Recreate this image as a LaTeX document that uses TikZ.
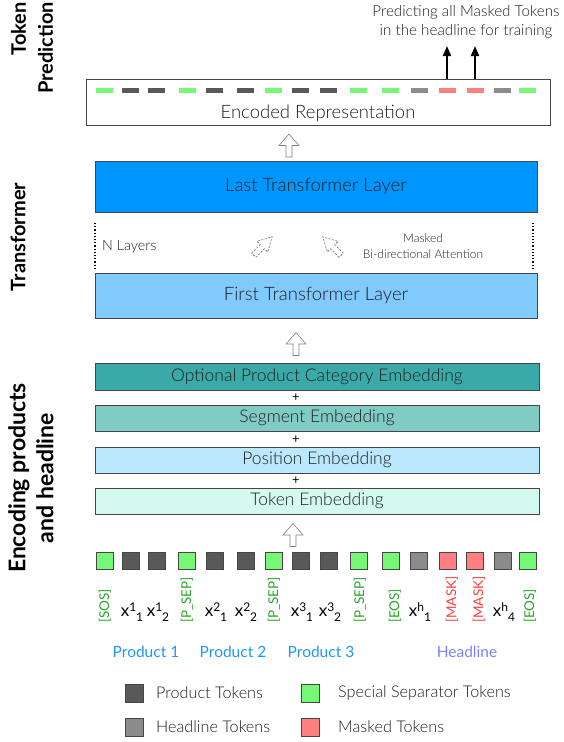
\documentclass[tikz,border=0pt]{standalone}
\usepackage{fontspec}
\setmainfont{Lato}[UprightFont={* Light}, BoldFont={* Bold}]
\newfontfamily\regfont{Lato}
\usetikzlibrary{arrows.meta}
\definecolor{prodtok}{RGB}{89,89,89}
\definecolor{headtok}{RGB}{140,140,140}
\definecolor{septok}{RGB}{118,248,118}
\definecolor{masktok}{RGB}{255,128,128}
\definecolor{boxline}{RGB}{70,70,70}
\definecolor{txt}{RGB}{30,30,30}
\definecolor{lastc}{RGB}{0,150,255}
\definecolor{firstc}{RGB}{128,202,255}
\definecolor{optc}{RGB}{58,170,168}
\definecolor{segc}{RGB}{128,203,196}
\definecolor{posc}{RGB}{186,232,252}
\definecolor{tokc}{RGB}{212,250,240}
\definecolor{sepgreen}{RGB}{40,165,40}
\definecolor{maskred}{RGB}{255,60,60}
\definecolor{prodblue}{RGB}{30,150,255}
\definecolor{headlav}{RGB}{128,128,255}
\newcommand\xtok[2]{x\raisebox{5.5pt}{\fontsize{12}{12}\selectfont #1}\raisebox{-5pt}{\fontsize{12}{12}\selectfont #2}}
\begin{document}
\begin{tikzpicture}[x=1pt,y=-1pt,
  layerbox/.style={draw=boxline, line width=0.7pt, inner sep=0pt, minimum width=442pt, text=txt, font=\fontsize{18.5}{22}\selectfont},
  embbox/.style={draw=boxline, line width=0.7pt, inner sep=0pt, minimum width=444pt, minimum height=26pt, text=txt, font=\fontsize{17.5}{20}\selectfont},
  tok/.style={draw=boxline, line width=0.5pt, minimum size=17pt, inner sep=0pt},
  enctok/.style={minimum width=17pt, minimum height=5pt, inner sep=0pt},
  uparrow/.pic={\draw[gray, fill=white, line width=0.6pt] (-3,11.5) -- (-3,0) -- (-10,0) -- (0,-11.5) -- (10,0) -- (3,0) -- (3,11.5) -- cycle;},
  dasharrow/.pic={\draw[gray!80!black, dash pattern=on 2pt off 1.5pt, line width=0.6pt] (-3,13) -- (-3,1) -- (-7.5,1) -- (0,-13) -- (7.5,1) -- (3,1) -- (3,13) -- cycle;},
  predarrow/.style={-{Triangle[width=8pt,length=10pt]}, line width=2pt, black},
  sidelabel/.style={rotate=90, font=\bfseries\fontsize{20}{27}\selectfont, inner sep=0pt},
  sepl/.style={rotate=90, anchor=west, text=sepgreen, font=\regfont\fontsize{13.5}{14}\selectfont, inner sep=0pt},
  maskl/.style={rotate=90, anchor=west, text=maskred, font=\regfont\fontsize{13.5}{14}\selectfont, inner sep=0pt},
  xl/.style={font=\regfont\fontsize{17}{18}\selectfont, text=black, inner sep=0pt},
  plus/.style={font=\regfont\fontsize{13}{13}\selectfont, inner sep=0pt},
  grp/.style={font=\regfont\fontsize{15.5}{17}\selectfont, inner sep=0pt},
  leg/.style={anchor=west, font=\fontsize{16.2}{18}\selectfont, text=txt, inner sep=0pt},
  legsq/.style={draw=boxline, line width=0.5pt, minimum size=18pt, inner sep=0pt}
]
\useasboundingbox (0,0) rectangle (563,742);

% side labels
\node[sidelabel, align=right] (lblpred) at (32,48) {Token\\Prediction};
\node[sidelabel] (lbltrans) at (18,237) {Transformer};
\node[sidelabel, align=center, font=\bfseries\fontsize{23}{28}\selectfont] (lblenc) at (31,478) {Encoding products\\and headline};

% encoded representation
\node[draw=boxline, line width=0.7pt, minimum width=464pt, minimum height=46pt, inner sep=0pt] (enc) at (318,102) {};
\node[text=txt, font=\fontsize{18.5}{22}\selectfont, inner sep=0pt] (enctext) at (318,113) {Encoded Representation};
\foreach \x/\c [count=\i] in {104/septok,130/prodtok,156/prodtok,187/septok,214/prodtok,245/prodtok,273/septok,300/prodtok,328/prodtok,358/septok,390/septok,419/headtok,447/masktok,475/masktok,502/headtok,527/septok}
  \node[enctok, fill=\c] (d\i) at (\x,90) {};

\coordinate (pa) at (447,46);
\coordinate (pb) at (475,46);
\draw[predarrow] (enc.north -| d13) -- (pa);
\draw[predarrow] (enc.north -| d14) -- (pb);
\node[text=txt, align=center, font=\fontsize{15.2}{19}\selectfont, inner sep=0pt] (predtext) at (466,22) {Predicting all Masked Tokens\\in the headline for training};

% transformer
\node[layerbox, fill=lastc, minimum height=51pt] (last) at (316,186.5) {Last Transformer Layer};
\node[layerbox, fill=firstc, minimum height=45pt] (first) at (316,295.5) {First Transformer Layer};
\pic at (289,145.5) {uparrow};

\coordinate (dl1) at (95,223);
\coordinate (dl2) at (95,268);
\coordinate (dr1) at (533,223);
\coordinate (dr2) at (533,268);
\draw[dotted, line width=1.2pt, black] (dl1) -- (dl2);
\draw[dotted, line width=1.2pt, black] (dr1) -- (dr2);
\node[anchor=west, text=txt, font=\fontsize{14.3}{16}\selectfont, inner sep=0pt] (nlayers) at (102,247) {N Layers};
\pic[rotate=-45] at (263,246) {dasharrow};
\pic[rotate=45] at (332,246) {dasharrow};
\node[text=txt, align=center, font=\fontsize{12}{16}\selectfont, inner sep=0pt] (mba) at (423,246) {Masked\\Bi-directional Attention};

% embeddings
\pic at (296,344) {uparrow};
\node[embbox, fill=optc, minimum height=27pt] (opt) at (317,376.5) {Optional Product Category Embedding};
\node[plus] (pl1) at (296,398) {+};
\node[embbox, fill=segc] (seg) at (317,418) {Segment Embedding};
\node[plus] (pl2) at (296,440) {+};
\node[embbox, fill=posc] (pos) at (317,460) {Position Embedding};
\node[plus] (pl3) at (296,481) {+};
\node[embbox, fill=tokc] (temb) at (317,501) {Token Embedding};
\pic at (293,535) {uparrow};

% tokens
\foreach \x/\c [count=\i] in {105/septok,131/prodtok,157/prodtok,187/septok,215/prodtok,246/prodtok,274/septok,301/prodtok,329/prodtok,359/septok,391/septok,419/headtok,448/masktok,475/masktok,503/headtok,528/septok}
  \node[tok, fill=\c] (t\i) at (\x,561) {};

% token labels
\node[sepl] (l1) at (105,623) {[SOS]};
\node[xl] (l2) at (132,612) {\xtok{1}{1}};
\node[xl] (l3) at (158,612) {\xtok{1}{2}};
\node[sepl] (l4) at (187,623) {[P\_SEP]};
\node[xl] (l5) at (216,612) {\xtok{2}{1}};
\node[xl] (l6) at (246,612) {\xtok{2}{2}};
\node[sepl] (l7) at (274,623) {[P\_SEP]};
\node[xl] (l8) at (302,612) {\xtok{3}{1}};
\node[xl] (l9) at (330,612) {\xtok{3}{2}};
\node[sepl] (l10) at (360,623) {[P\_SEP]};
\node[sepl] (l11) at (395,623) {[EOS]};
\node[xl] (l12) at (420,612) {\xtok{h}{1}};
\node[maskl] (l13) at (452,623) {[MASK]};
\node[maskl] (l14) at (479,623) {[MASK]};
\node[xl] (l15) at (504,612) {\xtok{h}{4}};
\node[sepl] (l16) at (530,623) {[EOS]};

% group labels
\node[grp, text=prodblue] (g1) at (146,652) {Product 1};
\node[grp, text=prodblue] (g2) at (233,652) {Product 2};
\node[grp, text=prodblue] (g3) at (321,652) {Product 3};
\node[grp, text=headlav] (g4) at (467,652) {Headline};

% legend
\node[legsq, fill=prodtok] (q1) at (134,693) {};
\node[leg] (q1t) at (156,693) {Product Tokens};
\node[legsq, fill=headtok] (q2) at (134,727) {};
\node[leg] (q2t) at (156,727) {Headline Tokens};
\node[legsq, fill=septok] (q3) at (310,693) {};
\node[leg] (q3t) at (338,693) {Special Separator Tokens};
\node[legsq, fill=masktok] (q4) at (310,727) {};
\node[leg] (q4t) at (338,727) {Masked Tokens};
\end{tikzpicture}
\end{document}
